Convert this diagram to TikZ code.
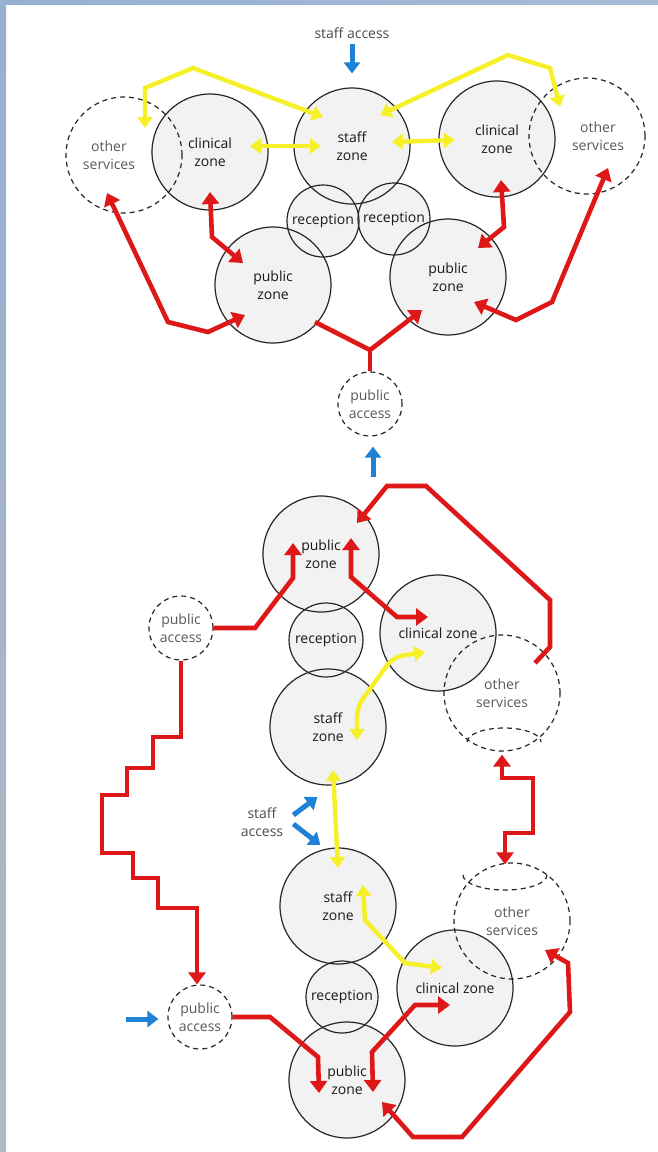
\documentclass[tikz,border=0pt]{standalone}
\usepackage{fontspec}
\setmainfont{Open Sans}
\definecolor{linkred}{RGB}{222, 24, 24}
\definecolor{linkyellow}{RGB}{245, 240, 40}
\definecolor{linkblue}{RGB}{30, 130, 215}
\definecolor{zonegrey}{RGB}{242, 242, 242}
\definecolor{photoblue}{RGB}{150, 176, 208}
\definecolor{photogrey}{RGB}{178, 184, 194}
\usetikzlibrary{arrows.meta, backgrounds}

\begin{document}
\begin{tikzpicture}[x=1pt, y=-1pt,
  zonecirc/.style={circle, draw=black!85, line width=1.2pt, minimum size=116pt, inner sep=0pt, align=center, text=black!90, font=\fontsize{14}{18}\selectfont},
  deskcirc/.style={zonecirc, minimum size=72pt},
  othercirc/.style={zonecirc, dash pattern=on 5pt off 4pt, text=black!65},
  accesscirc/.style={othercirc, minimum size=64pt},
  svcname/.style={align=center, text=black!65, font=\fontsize{14}{18}\selectfont},
  accnote/.style={align=center, inner sep=2pt, text=black!70, font=\fontsize{14}{18}\selectfont},
  svcarc/.style={draw=black!85, line width=1.2pt, dash pattern=on 5pt off 4pt},
  redlink/.style={draw=linkred, line width=4.6pt, >={Triangle[width=17pt,length=12pt]}},
  yellink/.style={draw=linkyellow, line width=4.4pt, >={Triangle[width=15pt,length=11pt]}},
  bluelink/.style={draw=linkblue, line width=5pt, ->, >={Triangle[width=16pt,length=11pt]}}
]
  % top layout
  \node[accnote] (saT) at (352,33) {staff access};
  \node[othercirc, label={[svcname, xshift=-15pt]center:{other\\services}}] (osL) at (124,155) {};
  \node[zonecirc] (czL) at (210,152) {clinical\\zone};
  \node[zonecirc] (szT) at (352,146) {staff\\zone};
  \node[zonecirc] (czR) at (497,139) {clinical\\zone};
  \node[othercirc, label={[svcname, xshift=11pt]center:{other\\services}}] (osR) at (587,136) {};
  \node[deskcirc] (rcL) at (323,221) {reception};
  \node[deskcirc] (rcR) at (394,219) {reception};
  \node[zonecirc] (pzL) at (273,285) {public\\zone};
  \node[zonecirc] (pzR) at (448,277) {public\\zone};
  \node[accesscirc] (paT) at (370,404) {public\\access};
  \coordinate (fork) at (370,350);

  \draw[bluelink] ([shift={(0,3)}]saT.south) -- ([shift={(0,-14)}]szT.north);
  \draw[yellink, <->] ([shift={(21,-27)}]osL.center) -- (145,88) -- (193,68) -- ([shift={(-29,-29)}]szT.center);
  \draw[yellink, <->] ([shift={(28,-31)}]szT.center) -- (508,55) -- (550,68) -- ([shift={(-27,-29)}]osR.center);
  \draw[yellink, <->] ([shift={(40,-6)}]czL.center) -- ([shift={(-31,0)}]szT.center);
  \draw[yellink, <->] ([shift={(40,-4)}]szT.center) -- ([shift={(-42,1)}]czR.center);

  \draw[redlink, <->] ([shift={(-17,38)}]osL.center) -- (168,322) -- (208,332) -- ([shift={(-28,30)}]pzL.center);
  \draw[redlink, <->] ([shift={(0,40)}]czL.center) -- (212,237) -- ([shift={(-30,-22)}]pzL.center);
  \draw[redlink, ->] ([shift={(42,37)}]pzL.center) -- (fork) -- ([shift={(-26,33)}]pzR.center);
  \draw[redlink] (fork) -- (paT.north);
  \draw[redlink, <->] ([shift={(4,41)}]czR.center) -- (504,227) -- ([shift={(30,-29)}]pzR.center);
  \draw[redlink, <->] ([shift={(21,32)}]osR.center) -- (552,302) -- (516,320) -- ([shift={(26,25)}]pzR.center);

  % lower layout
  \node[zonecirc] (pzM) at (321,554) {public\\zone};
  \node[deskcirc, minimum size=74pt] (rcM) at (326,640) {reception};
  \node[zonecirc] (czM) at (438,633) {clinical zone};
  \node[othercirc] (osM) at (502,693) {other\\services};
  \node[zonecirc] (szM) at (328,727) {staff\\zone};
  \node[accesscirc] (paM) at (181,628) {public\\access};
  \draw[svcarc] ([shift={(-35,49)}]osM.center) arc[start angle=180, end angle=360, x radius=37, y radius=14];

  \node[accnote] (saB) at (262,822) {staff\\access};
  \node[zonecirc] (szB) at (338,906) {staff\\zone};
  \node[deskcirc] (rcB) at (342,997) {reception};
  \node[zonecirc] (pzB) at (347,1080) {public\\zone};
  \node[zonecirc] (czB) at (455,988) {clinical zone};
  \node[othercirc] (osB) at (512,921) {other\\services};
  \node[accesscirc] (paB) at (200,1017) {public\\access};
  \draw[svcarc] ([shift={(-49,-46)}]osB.center) arc[start angle=180, end angle=0, x radius=42, y radius=15];

  \draw[bluelink] ([shift={(3,40)}]paT.south) -- ([shift={(3,10)}]paT.south);
  \draw[bluelink] ([shift={(8,-7)}]saB.east) -- ([shift={(32,-25)}]saB.east);
  \draw[bluelink] ([shift={(8,2)}]saB.east) -- ([shift={(35,23)}]saB.east);
  \draw[bluelink] ([shift={(-41,2)}]paB.west) -- ([shift={(-9,2)}]paB.west);

  \draw[redlink, ->] (paM.east) -- (255,628) -- (293,578) -- ([shift={(-28,-11)}]pzM.center);
  \draw[redlink, <->] ([shift={(30,-16)}]pzM.center) -- (351,577) -- (397,617) -- ([shift={(-10,-16)}]czM.center);
  \draw[redlink, ->] ([shift={(33,-30)}]osM.center) -- (550,647) -- (550,600) -- (426,486) -- (387,486) -- ([shift={(36,-31)}]pzM.center);
  \draw[yellink, <->, rounded corners=10pt] ([shift={(29,13)}]szM.center) -- (357,707) -- (393,657) -- ([shift={(-13,19)}]czM.center);
  \draw[redlink, ->] (paM.south) -- (181,737) -- (153,737) -- (153,768) -- (127,768) -- (127,795) -- (102,795) -- (102,853)
    -- (133,853) -- (133,878) -- (158,878) -- (158,908) -- (197,908) -- ([shift={(-3,0)}]paB.north);
  \draw[redlink, <->] ([shift={(0,3)}]osM.south) -- (502,778) -- (533,778) -- (533,833) -- (505,833) -- ([shift={(-7,2)}]osB.north);
  \draw[yellink, <->] ([shift={(5,43)}]szM.center) -- ([shift={(0,-38)}]szB.center);

  \draw[redlink, ->] (paB.east) -- (270,1017) -- (318,1057) -- ([shift={(-28,13)}]pzB.center);
  \draw[redlink, <->] ([shift={(26,12)}]pzB.center) -- (372,1052) -- (415,1005) -- ([shift={(-5,17)}]czB.center);
  \draw[redlink, <->] ([shift={(33,29)}]osB.center) -- (568,963) -- (570,1012) -- (462,1137) -- (413,1137) -- ([shift={(35,22)}]pzB.center);
  \draw[yellink, <->] ([shift={(25,-21)}]szB.center) -- (365,920) -- (405,963) -- ([shift={(-13,-20)}]czB.center);

  % page, photo strip and zone fills
  \begin{scope}[on background layer]
    \fill[white] (0,0) rectangle (658,1152);
    \shade[top color=photoblue, middle color=white!80!photogrey, bottom color=photogrey] (0,0) rectangle (6,1152);
    \shade[left color=photoblue, right color=photoblue!85!white] (0,0) rectangle (658,4);
    \foreach \z/\r in {czL/58, szT/57, czR/57, rcL/36, rcR/36, pzL/58, pzR/58, pzM/58, rcM/37, czM/58, szM/58, szB/58, rcB/36, pzB/58, czB/57}
      \fill[zonegrey] (\z) circle[radius=\r];
  \end{scope}
  \useasboundingbox (0,0) rectangle (658,1152);
\end{tikzpicture}
\end{document}
